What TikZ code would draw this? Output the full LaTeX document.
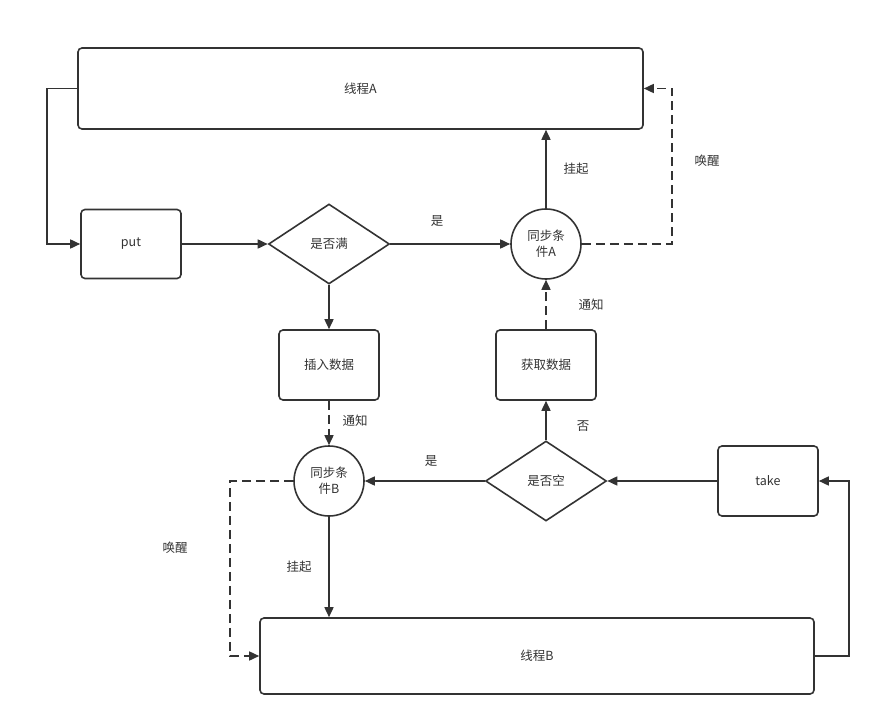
\documentclass[tikz,border=0pt]{standalone}
\usepackage{fontspec}
\setmainfont{Noto Sans CJK SC}
\usetikzlibrary{arrows.meta,shapes.geometric}
\definecolor{ink}{HTML}{333333}

\begin{document}
\begin{tikzpicture}[x=1pt, y=-1pt, line width=1.6pt, draw=ink, text=ink,
	font=\fontsize{12.5}{16}\selectfont,
	box/.style={rectangle,draw=ink,rounded corners=4pt,minimum width=100pt,minimum height=70pt,inner sep=0pt},
	cond/.style={diamond,draw=ink,minimum width=121pt,minimum height=80pt,inner sep=0pt},
	sync/.style={circle,draw=ink,minimum size=70pt,inner sep=0pt,align=center},
	arr/.style={draw=ink,-{Triangle[length=10pt,width=9pt]}},
	darr/.style={arr,dash pattern=on 9pt off 5pt},
	lbl/.style={inner sep=0pt}]
	\useasboundingbox (0,0) rectangle (880,727);

	% nodes
	\node[box,minimum width=565pt,minimum height=81pt] (tA) at (360.5,88.5) {线程A};
	\node[box,minimum height=69pt] (put) at (131,244) {put};
	\node[cond] (full) at (329,244) {是否满};
	\node[sync] (cA) at (546,244) {同步条\\件A};
	\node[box] (ins) at (329,365) {插入数据};
	\node[box] (get) at (546,365) {获取数据};
	\node[sync] (cB) at (329,481) {同步条\\件B};
	\node[cond] (empty) at (546,481) {是否空};
	\node[box] (take) at (768,481) {take};
	\node[box,minimum width=554pt,minimum height=76pt] (tB) at (537,656) {线程B};

	\coordinate (wA) at (672,244);
	\coordinate (wB) at (230,481);

	% connectors
	\draw[arr] (tA.west) -- ++(-30,0) |- (put.west);
	\draw[arr] (put.east) -- (full.west);
	\draw[arr] (full.east) -- (cA.west);
	\draw[arr] (cA.north) -- (tA.south -| cA.north);
	\draw[darr] (cA.east) -- (wA) |- (tA.east);
	\draw[arr] (full.south) -- (ins.north);
	\draw[darr] (ins.south) -- (cB.north);
	\draw[darr] (get.north) -- (cA.south);
	\draw[arr] (empty.north) -- (get.south);
	\draw[arr] (take.west) -- (empty.east);
	\draw[arr] (empty.west) -- (cB.east);
	\draw[arr] (cB.south) -- (tB.north -| cB.south);
	\draw[darr] (cB.west) -- (wB) |- (tB.west);
	\draw[arr] (tB.east) -- ++(34,0) |- (take.east);

	% labels
	\node[lbl] at (437,221) {是};
	\node[lbl] at (576,169) {挂起};
	\node[lbl] at (707,161) {唤醒};
	\node[lbl] at (355,421) {通知};
	\node[lbl] at (591,305) {通知};
	\node[lbl] at (583,426) {否};
	\node[lbl] at (431,461) {是};
	\node[lbl] at (299,567) {挂起};
	\node[lbl] at (175,548) {唤醒};
\end{tikzpicture}
\end{document}
